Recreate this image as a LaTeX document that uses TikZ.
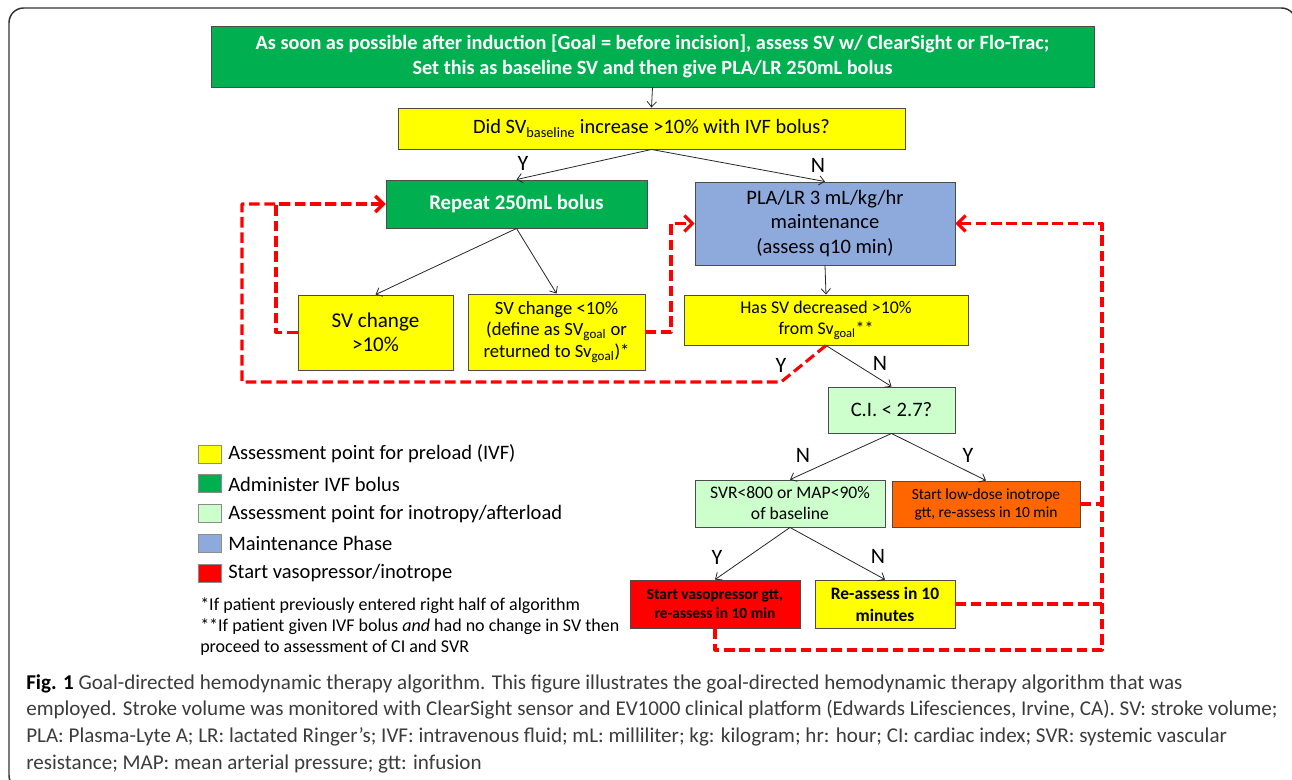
\documentclass[tikz,border=0pt]{standalone}
\usepackage{fontspec}
\setmainfont{Carlito}
\usetikzlibrary{arrows.meta}
\definecolor{gTop}{HTML}{00B050}
\definecolor{yBox}{HTML}{FFFF00}
\definecolor{lgBox}{HTML}{CCFFCC}
\definecolor{bBox}{HTML}{8EA9DB}
\definecolor{oBox}{HTML}{FF6600}
\definecolor{rBox}{HTML}{FF0000}
\definecolor{capgray}{HTML}{3C3C3C}
\newcommand{\fsz}[2]{\fontsize{#1}{#2}\selectfont}
\tikzset{
  sz/.style 2 args={minimum width=#1*0.75pt, minimum height=#2*0.75pt},
  box/.style={draw=black!70, line width=0.7pt, inner sep=0pt, align=center},
  blk/.style={draw=black!85, line width=0.6pt, -{Straight Barb[length=4pt,width=7pt]}},
  rd/.style={draw=rBox, line width=2.3pt, dash pattern=on 8pt off 3.5pt, line join=round},
  rda/.style={rd, -{Straight Barb[length=6pt,width=12pt]}},
  yn/.style={font=\fsz{16.5}{18}, inner sep=0pt},
  leg/.style={draw=black!45, line width=0.6pt, sz={23}{18}, inner sep=0pt},
  legt/.style={anchor=west, inner sep=0pt, font=\fsz{15.4}{17}},
  captxt/.style={anchor=west, inner sep=0pt, text=capgray, font=\fsz{15.8}{18}}
}
\begin{document}
\begin{tikzpicture}[x=0.75pt,y=-0.75pt]
\useasboundingbox (0,0) rectangle (1292,780);
\begin{scope}
\clip (0,0) rectangle (1292,780);
\draw[line width=1.1pt, black!80, rounded corners=11pt] (9,8) rectangle (1296,790);
\end{scope}

% boxes
\node[box, fill=gTop, sz={883}{61}, text=white, font=\bfseries\fsz{15.2}{18.75}] (top) at (652.5,56.5)
  {As soon as possible after induction [Goal = before incision], assess SV w/ ClearSight or Flo-Trac;\\Set this as baseline SV and then give PLA/LR 250mL bolus};
\node[box, fill=yBox, sz={507}{41}, font=\fsz{15.3}{16}] (did) at (651.5,128.5)
  {Did SV\textsubscript{baseline} increase >10\% with IVF bolus?};
\node[box, fill=gTop, sz={261}{48}, text=white, font=\bfseries\fsz{15.6}{17}] (rep) at (516.5,204) {Repeat 250mL bolus};
\node[box, fill=bBox, sz={260}{83}, font=\fsz{15.4}{18.4}] (pla) at (825,223.5)
  {PLA/LR 3 mL/kg/hr\\maintenance\\(assess q10 min)};
\node[box, fill=yBox, sz={284}{50}, font=\fsz{13.4}{15.8}] (has) at (826,320)
  {Has SV decreased >10\%\\from Sv\textsubscript{goal}**};
\node[box, fill=yBox, sz={155}{75}, font=\fsz{15.8}{17.6}] (svc) at (375.5,332.5) {SV change\\>10\%};
\node[box, fill=yBox, sz={177}{76}, font=\fsz{14}{16.1}] (svl) at (556.5,332)
  {SV change <10\%\\(define as SV\textsubscript{goal} or\\returned to Sv\textsubscript{goal})*};
\node[box, fill=lgBox, sz={127}{46}, font=\fsz{15.4}{17}] (ci) at (891.5,410) {C.I. < 2.7?};
\node[box, fill=lgBox, sz={190}{47}, font=\fsz{13.2}{15.8}] (svr) at (790,503.5) {SVR<800 or MAP<90\%\\of baseline};
\node[box, fill=oBox, sz={188}{46}, font=\fsz{11.6}{13.5}] (ora) at (986,504) {Start low-dose inotrope\\gtt, re-assess in 10 min};
\node[box, fill=rBox, sz={170}{48}, font=\bfseries\fsz{11.6}{14.2}] (red) at (715,604) {Start vasopressor gtt,\\re-assess in 10 min};
\node[box, fill=yBox, sz={140}{48}, font=\bfseries\fsz{13.1}{16.5}] (rea) at (885,604) {Re-assess in 10\\minutes};

% black connectors
\draw[blk] (top.south) -- (did.north);
\draw[blk] (did.south) -- (rep.north);
\draw[blk] (did.south) -- (pla.north);
\draw[blk] (rep.south) -- (svc.north);
\draw[blk] (rep.south) -- (svl.north);
\draw[blk] (pla.south) -- (has.north);
\draw[blk] (has.south) -- (ci.north);
\draw[blk] (ci.south) -- (svr.north);
\draw[blk] (ci.south) -- (ora.north);
\draw[blk] (svr.south) -- (red.north);
\draw[blk] (svr.south) -- (rea.north);

% Y/N labels
\node[yn] (y1) at (523,163) {Y};
\node[yn] (n1) at (818,165) {N};
\node[yn] (y2) at (781,365) {Y};
\node[yn] (n2) at (880,363) {N};
\node[yn] (n3) at (803,455) {N};
\node[yn] (y3) at (968,455) {Y};
\node[yn] (y4) at (717,557) {Y};
\node[yn] (n4) at (878,556) {N};

% red dashed loops
\coordinate (lA) at (276,0);
\coordinate (lB) at (242,382);
\coordinate (kY) at (781,382);
\coordinate (lC) at (671,0);
\coordinate (rB) at (1102,650);
\draw[rda] (svc.west) -| (lA |- rep.west) -- (rep.west);
\draw[rda] (has.south) -- (kY) -- (lB) |- (rep.west);
\draw[rda] (svl.east) -- (svl.east -| lC) |- (pla.west);
\draw[rda] (red.south) |- (rB) |- (pla.east);
\draw[rd] (ora.east) -- (ora.east -| rB);
\draw[rd] (rea.east) -- (rea.east -| rB);

% legend
\node[leg, fill=yBox] (k1) at (209.5,454) {};
\node[leg, fill=gTop] (k2) at (209.5,483) {};
\node[leg, fill=lgBox] (k3) at (209.5,513) {};
\node[leg, fill=bBox] (k4) at (209.5,543) {};
\node[leg, fill=rBox] (k5) at (209.5,573) {};
\node[legt] (t1) at (228,454) {Assessment point for preload (IVF)};
\node[legt] (t2) at (228,484) {Administer IVF bolus};
\node[legt] (t3) at (228,514) {Assessment point for inotropy/afterload};
\node[legt] (t4) at (228,543) {Maintenance Phase};
\node[legt] (t5) at (228,573) {Start vasopressor/inotrope};
\node[anchor=west, inner sep=0pt, font=\fsz{13.5}{15.75}, align=left] (fn) at (200,627)
  {*If patient previously entered right half of algorithm\\**If patient given IVF bolus \textit{and} had no change in SV then\\proceed to assessment of CI and SVR};

% caption
\node[captxt] (c1) at (26,684) {\textcolor{black}{\textbf{Fig. 1}} Goal-directed hemodynamic therapy algorithm. This figure illustrates the goal-directed hemodynamic therapy algorithm that was};
\node[captxt] (c2) at (26,710) {employed. Stroke volume was monitored with ClearSight sensor and EV1000 clinical platform (Edwards Lifesciences, Irvine, CA). SV: stroke volume;};
\node[captxt] (c3) at (26,737) {PLA: Plasma-Lyte A; LR: lactated Ringer’s; IVF: intravenous fluid; mL: milliliter; kg: kilogram; hr: hour; CI: cardiac index; SVR: systemic vascular};
\node[captxt] (c4) at (26,764) {resistance; MAP: mean arterial pressure; gtt: infusion};
\end{tikzpicture}
\end{document}
